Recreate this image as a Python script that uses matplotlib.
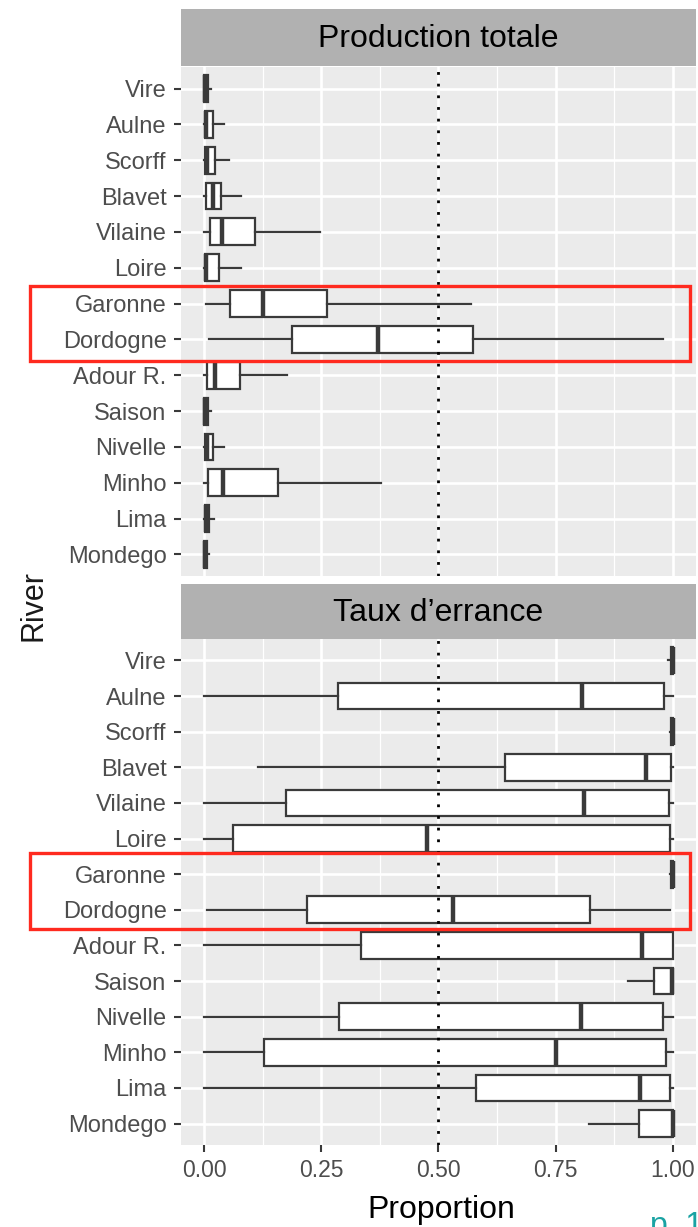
import matplotlib
matplotlib.use("Agg")
import matplotlib.pyplot as plt
from matplotlib.patches import Rectangle

plt.rcParams['font.family'] = ['Liberation Sans', 'DejaVu Sans']

# Rivers, top to bottom
rivers = ["Vire", "Aulne", "Scorff", "Blavet", "Vilaine", "Loire", "Garonne",
          "Dordogne", "Adour R.", "Saison", "Nivelle", "Minho", "Lima", "Mondego"]

# Production totale : whisker low, q1, median, q3, whisker high
prod_lo  = [0.000, 0.000, 0.000, 0.000, 0.000, 0.000, 0.004, 0.011, 0.000, 0.000, 0.000, 0.000, 0.000, 0.000]
prod_q1  = [0.000, 0.002, 0.002, 0.005, 0.012, 0.002, 0.056, 0.188, 0.006, 0.000, 0.002, 0.008, 0.002, 0.000]
prod_med = [0.003, 0.005, 0.006, 0.019, 0.038, 0.004, 0.126, 0.371, 0.024, 0.002, 0.006, 0.041, 0.005, 0.002]
prod_q3  = [0.008, 0.019, 0.023, 0.036, 0.109, 0.033, 0.262, 0.574, 0.077, 0.008, 0.019, 0.158, 0.011, 0.007]
prod_hi  = [0.016, 0.042, 0.053, 0.078, 0.248, 0.078, 0.570, 0.978, 0.178, 0.014, 0.042, 0.378, 0.021, 0.011]

# Taux d'errance
err_lo  = [0.990, 0.000, 0.993, 0.116, 0.000, 0.000, 0.993, 0.007, 0.000, 0.905, 0.000, 0.000, 0.000, 0.822]
err_q1  = [0.995, 0.285, 0.996, 0.641, 0.176, 0.063, 0.996, 0.220, 0.334, 0.960, 0.288, 0.127, 0.580, 0.927]
err_med = [1.000, 0.806, 1.000, 0.943, 0.811, 0.475, 1.000, 0.532, 0.934, 0.998, 0.804, 0.750, 0.930, 1.000]
err_q3  = [1.000, 0.980, 1.000, 0.996, 0.991, 0.993, 1.000, 0.824, 1.000, 1.000, 0.979, 0.986, 0.993, 1.000]
err_hi  = [1.000, 1.000, 1.000, 1.000, 1.000, 1.000, 1.000, 0.994, 1.000, 1.000, 1.000, 1.000, 1.000, 1.000]

x_ticks = [0.0, 0.25, 0.5, 0.75, 1.0]
x_labels = ["0.00", "0.25", "0.50", "0.75", "1.00"]

W, H = 698, 1227
fig = plt.figure(figsize=(W / 100, H / 100), dpi=100)

line_col = "#3a3a3a"
left, right = 180.5, 696.4


def px_axes(x0, y0, x1, y1):
    """Axes from pixel box (top-left origin)."""
    return fig.add_axes([x0 / W, 1 - y1 / H, (x1 - x0) / W, (y1 - y0) / H])


def strip(y0, y1, title):
    s = px_axes(left, y0, right, y1)
    s.set_facecolor("#b1b1b1")
    s.set_xticks([])
    s.set_yticks([])
    for sp in s.spines.values():
        sp.set_visible(False)
    s.text(0.5, 0.47, title, ha="center", va="center", fontsize=23, color="black",
           transform=s.transAxes)


def panel(y0, y1, lo, q1, med, q3, hi, bottom):
    ax = px_axes(left, y0, right, y1)
    ax.set_facecolor("#ebebeb")
    pos = list(range(1, len(rivers) + 1))
    stats = [dict(whislo=a, q1=b, med=c, q3=d, whishi=e, label=r)
             for a, b, c, d, e, r in zip(lo, q1, med, q3, hi, rivers)]
    ax.bxp(stats, positions=pos, widths=0.75, orientation="horizontal",
           patch_artist=True, showcaps=False, showfliers=False,
           boxprops=dict(facecolor="white", edgecolor=line_col, linewidth=1.6),
           whiskerprops=dict(color=line_col, linewidth=1.6),
           medianprops=dict(color=line_col, linewidth=3.2, solid_capstyle="butt"),
           zorder=3)
    ax.set_xlim(-0.05, 1.05)
    ax.set_ylim(len(rivers) + 0.6, 0.4)

    # ggplot-like grid
    ax.set_xticks(x_ticks)
    ax.set_xticks([0.125, 0.375, 0.625, 0.875], minor=True)
    ax.set_yticks(pos)
    ax.set_yticklabels(rivers)
    ax.grid(which="major", color="white", linewidth=1.9, zorder=0)
    ax.grid(which="minor", axis="x", color="white", linewidth=0.9, zorder=0)
    ax.set_axisbelow(True)

    ax.axvline(0.5, color="black", linewidth=2.0, linestyle=(0, (1, 3.2)), zorder=5)

    for sp in ax.spines.values():
        sp.set_visible(False)
    ax.tick_params(axis="y", length=5, width=1.5, color=line_col, pad=5,
                   labelsize=17, labelcolor="#4d4d4d")
    ax.tick_params(which="minor", length=0)
    if bottom:
        ax.set_xticklabels(x_labels)
        ax.tick_params(axis="x", length=5, width=1.5, color=line_col, pad=5,
                       labelsize=16.5, labelcolor="#4d4d4d")
    else:
        ax.tick_params(axis="x", length=0, labelbottom=False)
    return ax


strip(9, 66, "Production totale")
panel(67, 576, prod_lo, prod_q1, prod_med, prod_q3, prod_hi, bottom=False)
strip(584, 639, "Taux d\u2019errance")
panel(639, 1145, err_lo, err_q1, err_med, err_q3, err_hi, bottom=True)

# axis titles
fig.text(34 / W, 1 - 606 / H, "River", rotation=90, ha="center", va="center",
         fontsize=22, color="#1a1a1a")
fig.text(441 / W, 1 - 1210 / H, "Proportion", ha="center", va="center",
         fontsize=23, color="black")
fig.text(650 / W, 1 - 1211 / H, "p. 1", ha="left", va="top", fontsize=23,
         color="#1aa3a3")

# highlight Garonne / Dordogne in both panels
for y0, y1 in [(286, 361), (853, 929)]:
    fig.patches.append(Rectangle((30 / W, 1 - y1 / H), 660 / W, (y1 - y0) / H,
                                 transform=fig.transFigure, fill=False,
                                 edgecolor="#ff2a1f", linewidth=2.4, zorder=10))

fig.savefig("out.png", dpi=100)
